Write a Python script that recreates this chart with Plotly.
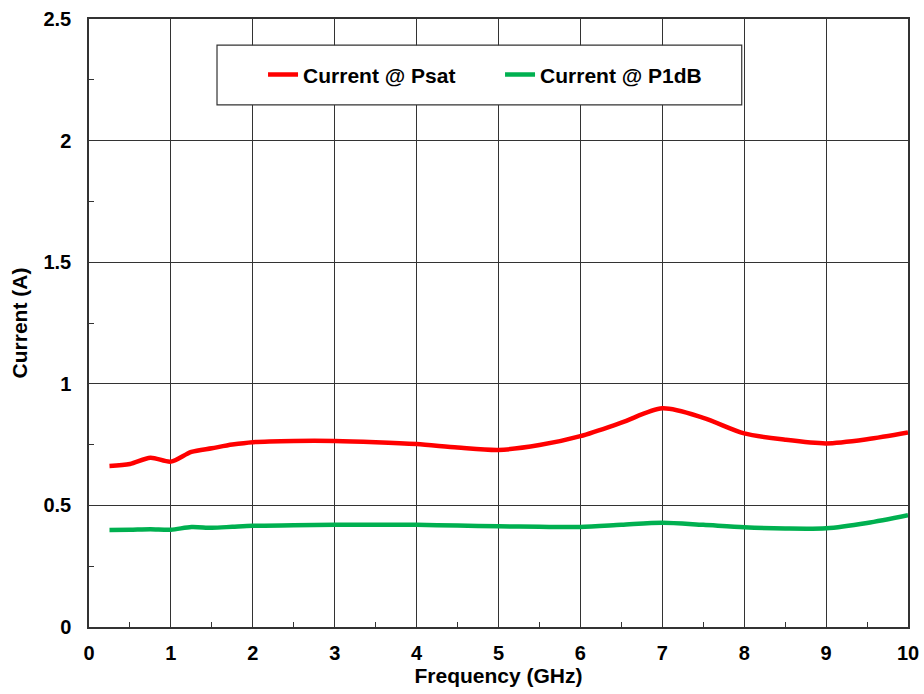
import plotly.graph_objects as go

freq = [0.25, 0.5, 0.75, 1.0, 1.25, 1.5, 1.75, 2.0, 2.5, 3.0, 3.5, 4.0, 4.5, 5.0, 5.5, 6.0, 6.5, 7.0, 7.5, 8.0, 8.5, 9.0, 9.5, 10.0]
psat = [0.662, 0.67, 0.696, 0.68, 0.72, 0.735, 0.75, 0.76, 0.765, 0.765, 0.76, 0.752, 0.738, 0.728, 0.748, 0.785, 0.84, 0.899, 0.86, 0.796, 0.77, 0.755, 0.772, 0.80]
p1db = [0.399, 0.400, 0.402, 0.400, 0.411, 0.408, 0.412, 0.416, 0.418, 0.42, 0.42, 0.42, 0.417, 0.414, 0.412, 0.411, 0.42, 0.429, 0.42, 0.41, 0.405, 0.406, 0.428, 0.46]

x_ticks = [0, 1, 2, 3, 4, 5, 6, 7, 8, 9, 10]
y_ticks = [0, 0.5, 1, 1.5, 2, 2.5]
y_labels = ["0", "0.5", "1", "1.5", "2", "2.5"]

FONT = "Arial, Liberation Sans, sans-serif"

fig = go.Figure()
fig.add_trace(go.Scatter(x=freq, y=psat, mode="lines", name="Current @ Psat",
                         line=dict(color="#FF0000", width=4.5, shape="spline", smoothing=0.8)))
fig.add_trace(go.Scatter(x=freq, y=p1db, mode="lines", name="Current @ P1dB",
                         line=dict(color="#00B050", width=4.5, shape="spline", smoothing=0.8)))

# legend frame
fig.add_shape(type="rect", xref="paper", yref="paper",
              x0=0.1563, x1=0.797, y0=0.8586, y1=0.957,
              line=dict(color="#333", width=1.2), fillcolor="white", layer="above")

fig.update_layout(
    width=924, height=694,
    margin=dict(l=89, r=16, t=19, b=67),
    plot_bgcolor="white", paper_bgcolor="white",
    font=dict(family=FONT, size=20, color="black"),
    showlegend=True,
    legend=dict(
        x=0.2125, y=0.908, xanchor="left", yanchor="middle",
        orientation="h",
        bgcolor="rgba(0,0,0,0)", borderwidth=0,
        font=dict(family=FONT, size=21, color="black", weight="bold"),
        entrywidth=192, itemwidth=30,
    ),
    xaxis=dict(
        range=[0, 10], tickvals=x_ticks, ticktext=[f"<b>{v}</b>" for v in x_ticks],
        showgrid=True, gridcolor="#333", gridwidth=1,
        showline=True, linecolor="#333", linewidth=1.5, mirror=True,
        ticks="inside", ticklen=6, tickcolor="#333",
        minor=dict(dtick=0.5, ticks="inside", ticklen=5, tickcolor="#333", showgrid=False),
        zeroline=False, automargin=False, ticklabelstandoff=7,
        title=dict(text="<b>Frequency (GHz)</b>", standoff=2, font=dict(size=21)),
        tickfont=dict(size=20),
    ),
    yaxis=dict(
        range=[0, 2.5], tickvals=y_ticks, ticktext=[f"<b>{v}</b>" for v in y_labels],
        showgrid=True, gridcolor="#333", gridwidth=1,
        showline=True, linecolor="#333", linewidth=1.5, mirror=True,
        ticks="inside", ticklen=6, tickcolor="#333",
        minor=dict(dtick=0.25, ticks="inside", ticklen=5, tickcolor="#333", showgrid=False),
        zeroline=False, automargin=False, ticklabelstandoff=12,
        title=dict(text="<b>Current (A)</b>", standoff=10, font=dict(size=21)),
        tickfont=dict(size=20),
    ),
)

fig.write_html("out.html")
